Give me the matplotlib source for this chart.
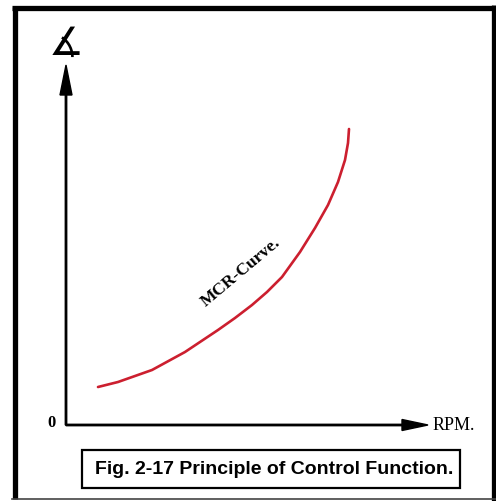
import numpy as np
import matplotlib.pyplot as plt
from matplotlib.patches import Rectangle

# MCR curve (arbitrary units, origin at the axes corner)
rpm = [32, 52, 86, 119, 152, 169, 186, 201, 216, 234, 249, 262, 272, 279, 282, 283]
angle = [38, 43, 55, 73, 95, 107, 120, 133, 148, 173, 197, 220, 243, 265, 282, 296]

x_label = 'RPM.'
y_label = '\u2221'
origin_label = '0'
curve_label = 'MCR-Curve.'
caption = 'Fig. 2-17 Principle of Control Function.'

fig = plt.figure(figsize=(4.96, 5.01), dpi=100)
ax = fig.add_axes([0, 0, 1, 1])
ax.set_xlim(-66, 430)
ax.set_ylim(-76, 425)
ax.axis('off')

# outer frame
ax.plot([-51.5, -51.5], [-74, 418], color='black', lw=3.8, solid_capstyle='butt')
ax.plot([-54, 427], [417.5, 417.5], color='black', lw=3.8, solid_capstyle='butt')
ax.plot([427.5, 427.5], [420, -76], color='black', lw=3.8, solid_capstyle='butt')
ax.plot([-54, 430], [-73.5, -73.5], color='#444444', lw=1.2)

# axes with arrows
ax.arrow(0, 0, 362, 0, width=1.4, head_width=11, head_length=26,
         length_includes_head=True, color='black')
ax.arrow(0, 0, 0, 360, width=1.4, head_width=12, head_length=30,
         length_includes_head=True, color='black')

ax.plot(rpm, angle, color='#cc1f2f', lw=1.9, solid_capstyle='round',
        solid_joinstyle='round')

ax.text(-14, 2, origin_label, fontsize=12, fontweight='bold',
        family='Liberation Serif', ha='center', va='center')
ax.text(367, 0, x_label, fontsize=13, family='Liberation Serif',
        ha='left', va='center')
ax.text(0, 381, y_label, fontsize=28, family='DejaVu Sans',
        ha='center', va='center')
ax.text(175, 153, curve_label, fontsize=12.5, fontweight='bold',
        family='Liberation Serif', rotation=40, rotation_mode='anchor',
        ha='center', va='center')

ax.add_patch(Rectangle((16, -63), 378, 38, fill=False, ec='black', lw=1.6))
ax.text(208, -44, caption, fontsize=14, fontweight='bold',
        family='Liberation Sans', ha='center', va='center')

fig.savefig('out.png', dpi=100)
